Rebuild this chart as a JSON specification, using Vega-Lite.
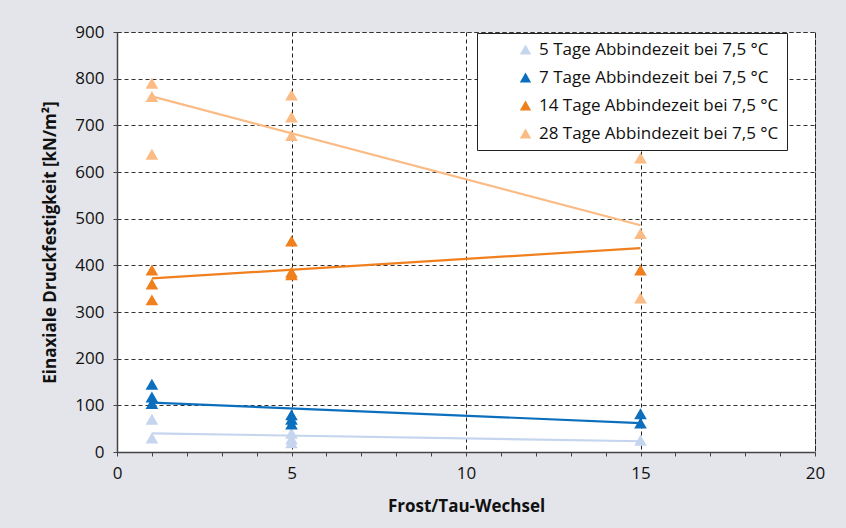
{
  "$schema": "https://vega.github.io/schema/vega-lite/v6.json",
  "autosize": {"type": "none"},
  "width": 698,
  "height": 420,
  "padding": {"left": 117, "top": 32, "right": 31, "bottom": 76},
  "background": "#e4e5ea",
  "config": {
    "font": "Open Sans",
    "view": {"fill": "white", "stroke": "#222", "strokeDash": [4, 3], "strokeWidth": 1}
  },
  "datasets": {
    "points": [
      {"x": 1, "y": 70, "serie": "5 Tage Abbindezeit bei 7,5 °C"},
      {"x": 1, "y": 30, "serie": "5 Tage Abbindezeit bei 7,5 °C"},
      {"x": 5, "y": 40, "serie": "5 Tage Abbindezeit bei 7,5 °C"},
      {"x": 5, "y": 28, "serie": "5 Tage Abbindezeit bei 7,5 °C"},
      {"x": 5, "y": 20, "serie": "5 Tage Abbindezeit bei 7,5 °C"},
      {"x": 15, "y": 25, "serie": "5 Tage Abbindezeit bei 7,5 °C"},
      {"x": 1, "y": 145, "serie": "7 Tage Abbindezeit bei 7,5 °C"},
      {"x": 1, "y": 118, "serie": "7 Tage Abbindezeit bei 7,5 °C"},
      {"x": 1, "y": 104, "serie": "7 Tage Abbindezeit bei 7,5 °C"},
      {"x": 5, "y": 80, "serie": "7 Tage Abbindezeit bei 7,5 °C"},
      {"x": 5, "y": 70, "serie": "7 Tage Abbindezeit bei 7,5 °C"},
      {"x": 5, "y": 60, "serie": "7 Tage Abbindezeit bei 7,5 °C"},
      {"x": 15, "y": 82, "serie": "7 Tage Abbindezeit bei 7,5 °C"},
      {"x": 15, "y": 62, "serie": "7 Tage Abbindezeit bei 7,5 °C"},
      {"x": 1, "y": 390, "serie": "14 Tage Abbindezeit bei 7,5 °C"},
      {"x": 1, "y": 360, "serie": "14 Tage Abbindezeit bei 7,5 °C"},
      {"x": 1, "y": 326, "serie": "14 Tage Abbindezeit bei 7,5 °C"},
      {"x": 5, "y": 452, "serie": "14 Tage Abbindezeit bei 7,5 °C"},
      {"x": 5, "y": 385, "serie": "14 Tage Abbindezeit bei 7,5 °C"},
      {"x": 5, "y": 380, "serie": "14 Tage Abbindezeit bei 7,5 °C"},
      {"x": 15, "y": 390, "serie": "14 Tage Abbindezeit bei 7,5 °C"},
      {"x": 1, "y": 790, "serie": "28 Tage Abbindezeit bei 7,5 °C"},
      {"x": 1, "y": 762, "serie": "28 Tage Abbindezeit bei 7,5 °C"},
      {"x": 1, "y": 638, "serie": "28 Tage Abbindezeit bei 7,5 °C"},
      {"x": 5, "y": 765, "serie": "28 Tage Abbindezeit bei 7,5 °C"},
      {"x": 5, "y": 718, "serie": "28 Tage Abbindezeit bei 7,5 °C"},
      {"x": 5, "y": 678, "serie": "28 Tage Abbindezeit bei 7,5 °C"},
      {"x": 15, "y": 630, "serie": "28 Tage Abbindezeit bei 7,5 °C"},
      {"x": 15, "y": 468, "serie": "28 Tage Abbindezeit bei 7,5 °C"},
      {"x": 15, "y": 330, "serie": "28 Tage Abbindezeit bei 7,5 °C"}
    ],
    "trends": [
      {"x": 1, "y": 40, "serie": "5 Tage Abbindezeit bei 7,5 °C"},
      {"x": 15, "y": 23, "serie": "5 Tage Abbindezeit bei 7,5 °C"},
      {"x": 1, "y": 106, "serie": "7 Tage Abbindezeit bei 7,5 °C"},
      {"x": 15, "y": 62, "serie": "7 Tage Abbindezeit bei 7,5 °C"},
      {"x": 1, "y": 372, "serie": "14 Tage Abbindezeit bei 7,5 °C"},
      {"x": 15, "y": 437, "serie": "14 Tage Abbindezeit bei 7,5 °C"},
      {"x": 1, "y": 762, "serie": "28 Tage Abbindezeit bei 7,5 °C"},
      {"x": 15, "y": 486, "serie": "28 Tage Abbindezeit bei 7,5 °C"}
    ]
  },
  "encoding": {
    "x": {
      "field": "x", "type": "quantitative",
      "scale": {"domain": [0, 20], "nice": false},
      "axis": {
        "title": "Frost/Tau-Wechsel",
        "values": [0,1,2,3,4,5,6,7,8,9,10,11,12,13,14,15,16,17,18,19,20],
        "labelExpr": "datum.value % 5 === 0 ? datum.label : ''",
        "labelOverlap": false,
        "grid": true,
        "gridColor": "#222",
        "gridDash": [4, 3],
        "gridOpacity": {"condition": {"test": "datum.value % 5 === 0", "value": 1}, "value": 0},
        "domainColor": "#444",
        "domainWidth": 1.5,
        "tickColor": "#444",
        "tickSize": 4,
        "labelFontSize": 17,
        "labelColor": "#111",
        "labelPadding": 9,
        "labelFlush": false,
        "titleFontSize": 17,
        "titleFontWeight": "bold",
        "titleColor": "#111",
        "titlePadding": 17
      }
    }
  },
  "layer": [
    {
      "data": {"name": "trends"},
      "mark": {"type": "line", "strokeWidth": 2.2},
      "encoding": {
        "y": {"field": "y", "type": "quantitative"},
        "color": {"field": "serie", "type": "nominal"}
      }
    },
    {
      "data": {"name": "points"},
      "mark": {"type": "point", "shape": "triangle-up", "filled": true, "opacity": 1, "size": 160},
      "encoding": {
        "y": {
          "field": "y", "type": "quantitative",
          "scale": {"domain": [0, 900], "nice": false},
          "axis": {
            "title": "Einaxiale Druckfestigkeit [kN/m²]",
            "values": [0,100,200,300,400,500,600,700,800,900],
            "labelOverlap": false,
            "grid": true,
            "gridColor": "#333",
            "gridDash": [4, 3],
            "gridOpacity": {"condition": {"test": "datum.value > 0", "value": 1}, "value": 0},
            "domainColor": "#444",
            "domainWidth": 1.5,
            "tickColor": "#444",
            "tickSize": 4,
            "labelFontSize": 17,
            "labelColor": "#111",
            "labelPadding": 9,
            "labelFlush": false,
            "titleFontSize": 17,
            "titleFontWeight": "bold",
            "titleColor": "#111",
            "titlePadding": 15
          }
        },
        "color": {
          "field": "serie", "type": "nominal",
          "scale": {
            "domain": ["5 Tage Abbindezeit bei 7,5 °C", "7 Tage Abbindezeit bei 7,5 °C", "14 Tage Abbindezeit bei 7,5 °C", "28 Tage Abbindezeit bei 7,5 °C"],
            "range": ["#c5d5ee", "#0b6fbd", "#f07f1e", "#fbbb84"]
          },
          "legend": {
            "title": null,
            "orient": "none",
            "legendX": 360,
            "legendY": 1,
            "fillColor": "white",
            "strokeColor": "#222",
            "padding": 8,
            "symbolOffset": 32,
            "symbolType": "triangle-up",
            "symbolSize": 130,
            "symbolStrokeWidth": 0,
            "labelFontSize": 17,
            "labelColor": "#111",
            "labelOffset": 5,
            "rowPadding": 10,
            "labelLimit": 400
          }
        }
      }
    }
  ]
}
